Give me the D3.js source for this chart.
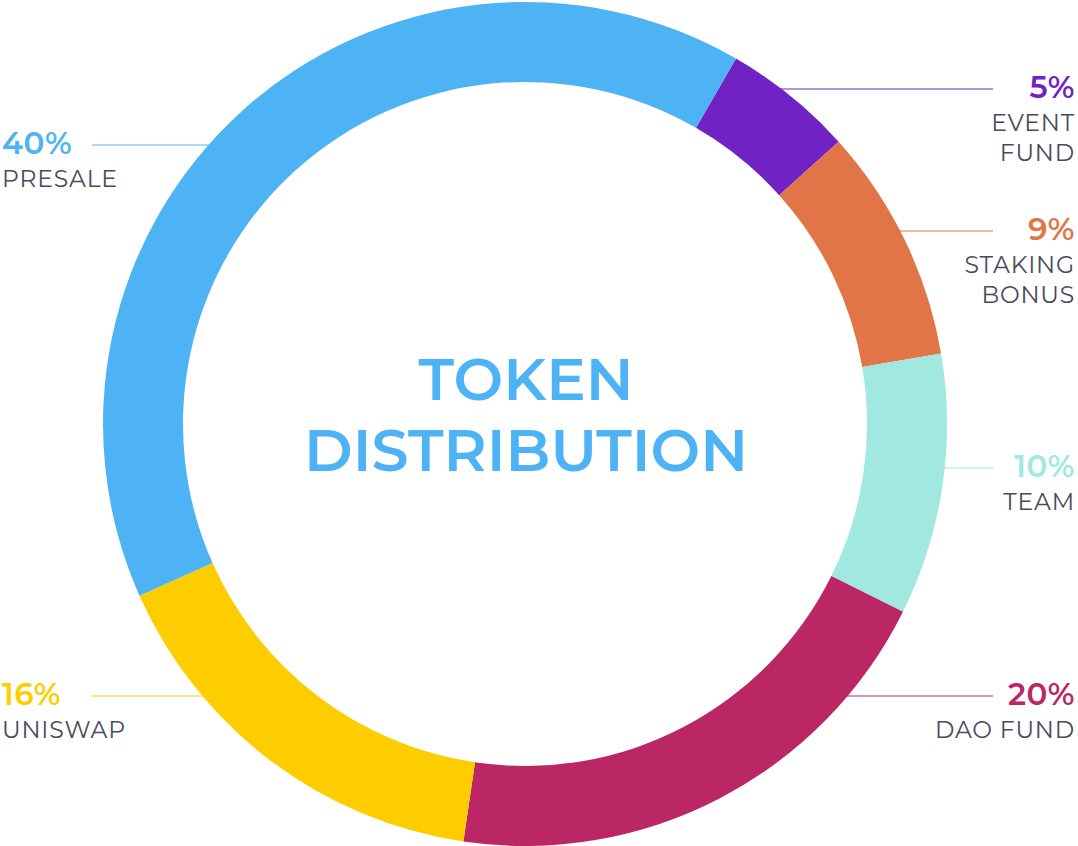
<!DOCTYPE html>
<html>
<head>
<meta charset="utf-8">
<script src="https://cdn.jsdelivr.net/npm/d3@7"></script>
<style>
  html, body { margin: 0; padding: 0; background: #ffffff; }
  svg { display: block; }
  text { font-family: "Montserrat", "Noto Sans", "Open Sans", sans-serif; }
</style>
</head>
<body>
<svg id="chart" width="1078" height="846"></svg>
<script>
// ---- data ----
const categories = ["EVENT FUND", "STAKING BONUS", "TEAM", "DAO FUND", "UNISWAP", "PRESALE"];
const nameLines  = [["EVENT", "FUND"], ["STAKING", "BONUS"], ["TEAM"], ["DAO FUND"], ["UNISWAP"], ["PRESALE"]];
const values     = [5, 9, 10, 20, 16, 40];
const colors     = ["#7022C4", "#E27547", "#A0E8E0", "#BA2764", "#FDCD00", "#4DB3F5"];
const titleLines = ["TOKEN", "DISTRIBUTION"];

// ---- layout (not data) ----
const W = 1078, H = 846;
const cx = 525, cy = 424, outerR = 422, innerR = 342;
const startAngle = Math.PI / 6;
const labelSide = ["right", "right", "right", "right", "left", "left"];
const labelLineY = [89, 231, 468, 696, 696, 145];

const svg = d3.select("#chart");

const pie = d3.pie().value(d => d).sort(null)
  .startAngle(startAngle).endAngle(startAngle + 2 * Math.PI);
const arcs = pie(values);
const arc = d3.arc().innerRadius(innerR).outerRadius(outerR);

// leader lines (under ring)
const lines = svg.append("g");
arcs.forEach((a, i) => {
  const y = labelLineY[i];
  const dy = y - cy;
  const dx = Math.sqrt(Math.max(0, outerR * outerR - dy * dy));
  const ringX = labelSide[i] === "right" ? cx + dx - 6 : cx - dx + 6;
  const endX = labelSide[i] === "right" ? 993 : 92;
  lines.append("line")
    .attr("x1", ringX).attr("x2", endX)
    .attr("y1", y).attr("y2", y)
    .attr("stroke", colors[i]).attr("stroke-opacity", 0.5)
    .attr("stroke-width", 2);
});

// ring
svg.append("g").attr("transform", `translate(${cx},${cy})`)
  .selectAll("path").data(arcs).join("path")
  .attr("d", arc)
  .attr("fill", (d, i) => colors[i]);

// labels
const lab = svg.append("g");
arcs.forEach((a, i) => {
  const right = labelSide[i] === "right";
  const x = right ? 1075 : 2;
  const anchor = right ? "end" : "start";
  const y = labelLineY[i];
  lab.append("text")
    .attr("x", x).attr("y", y + 9)
    .attr("text-anchor", anchor)
    .attr("font-size", 31).attr("font-weight", 600)
    .attr("letter-spacing", 0.5)
    .attr("fill", colors[i])
    .text(values[i] + "%");
  nameLines[i].forEach((t, k) => {
    lab.append("text")
      .attr("x", x).attr("y", y + 42 + k * 30)
      .attr("text-anchor", anchor)
      .attr("font-size", 23.5).attr("font-weight", 400)
      .attr("letter-spacing", 0.8)
      .attr("fill", "#4B4A5C")
      .text(t);
  });
});

// title
svg.append("g").selectAll("text").data(titleLines).join("text")
  .attr("x", 526)
  .attr("y", (d, i) => 400 + i * 71)
  .attr("text-anchor", "middle")
  .attr("font-size", 59).attr("font-weight", 600)
  .attr("letter-spacing", 0)
  .attr("fill", "#4DB3F5")
  .text(d => d);
</script>
</body>
</html>
